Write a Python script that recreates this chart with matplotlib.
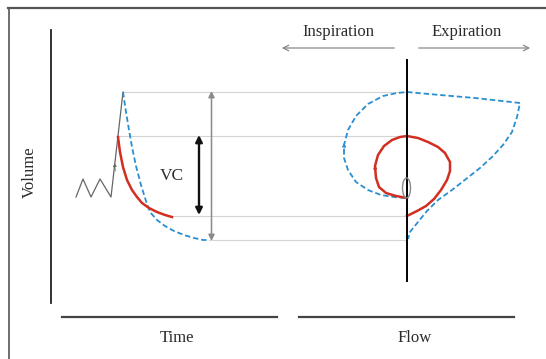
import matplotlib.pyplot as plt
from matplotlib.patches import Ellipse

# ============================================================
# THEME
# ============================================================

plt.rcParams["font.family"] = ["Liberation Serif", "DejaVu Serif"]

RED = "#d12f22"
BLUE = "#2a8fd0"
GREY = "#8a8a8a"
GUIDE = "#d4d4d4"
DARK = "#222222"
TEXT = "#2b2b2b"

# ============================================================
# DATA (diagram coordinates, pixel space, y grows downwards)
# ============================================================

# tidal breathing zigzag then deep inspiration (time panel)
tidal_x = [76, 83, 91, 100, 111, 123]
tidal_y = [197, 179, 197, 179, 197, 92]

# forced expiration, volume vs time
red_time_x = [118, 120, 123, 127, 132, 137, 142, 149, 157, 165, 172]
red_time_y = [137, 152, 167, 180, 190, 197, 203, 208, 212, 215, 217]

blue_time_x = [123, 126, 129, 132, 136, 141, 146, 150, 157, 165, 174, 184, 194, 203, 209]
blue_time_y = [92, 112, 130, 147, 166, 185, 201, 212, 220, 226, 231, 235, 238, 240, 240]

# flow-volume loops
red_loop_x = [407, 396, 386, 379, 376, 375, 378, 384, 392, 400, 407, 418, 428, 438,
              445, 450, 450, 447, 441, 434, 426, 417, 407]
red_loop_y = [198, 196, 193, 187, 178, 166, 155, 146, 140, 137, 136, 138, 142, 147,
              153, 162, 171, 180, 190, 199, 206, 211, 216]

blue_loop_x = [405, 394, 381, 368, 356, 348, 344, 344, 348, 356, 368, 383, 397, 407,
               440, 475, 520, 517, 512, 503, 492, 480, 466, 452, 438, 427, 418, 410, 408]
blue_loop_y = [198, 197, 195, 190, 182, 170, 158, 145, 130, 116, 104, 96, 93, 92,
               95, 98, 103, 117, 132, 145, 157, 168, 179, 190, 200, 211, 222, 232, 239]

# volume guide lines: level and left start
guide_levels = [92, 136, 216, 240]
guide_starts = [123, 118, 170, 209]
guide_end = 407

# tidal loop ellipse at zero flow
ellipse_center = (406.5, 188)
ellipse_size = (8, 20)

# ============================================================
# FIGURE
# ============================================================

fig = plt.figure(figsize=(5.46, 3.59), dpi=100)
ax = fig.add_axes([0, 0, 1, 1])
ax.set_xlim(0, 546)
ax.set_ylim(359, 0)
ax.axis("off")

# frame (top and left only)
ax.plot([8, 546], [8, 8], color="#555555", lw=1.6)
ax.plot([8.5, 8.5], [8, 359], color="#555555", lw=1.2)

# axes of the diagram
ax.plot([51, 51], [30, 303], color=DARK, lw=1.3)
ax.plot([62, 277], [317, 317], color="#444444", lw=1.6)
ax.plot([299, 514], [317, 317], color="#444444", lw=1.6)
ax.plot([407, 407], [60, 281], color="black", lw=1.4, zorder=5)

ax.text(30, 172, "Volume", rotation=90, ha="center", va="center",
        fontsize=12, color=TEXT)
ax.text(177, 338, "Time", ha="center", va="center", fontsize=12, color=TEXT)
ax.text(415, 338, "Flow", ha="center", va="center", fontsize=12, color=TEXT)

ax.text(338, 32, "Inspiration", ha="center", va="center", fontsize=12, color=TEXT)
ax.text(467, 32, "Expiration", ha="center", va="center", fontsize=12, color=TEXT)
ax.annotate("", xy=(279, 48), xytext=(397, 48),
            arrowprops=dict(arrowstyle="->", color=GREY, lw=0.9))
ax.annotate("", xy=(533, 48), xytext=(416, 48),
            arrowprops=dict(arrowstyle="->", color=GREY, lw=0.9))

# guide lines
for level, start in zip(guide_levels, guide_starts):
    ax.plot([start, guide_end], [level, level], color=GUIDE, lw=0.8, zorder=1)

# vital capacity arrows
ax.annotate("", xy=(211.5, 91), xytext=(211.5, 241),
            arrowprops=dict(arrowstyle="<|-|>", color=GREY, lw=1.1,
                            mutation_scale=9, shrinkA=0, shrinkB=0))
ax.annotate("", xy=(199, 135), xytext=(199, 215),
            arrowprops=dict(arrowstyle="<|-|>", color="#111111", lw=1.7,
                            mutation_scale=10, shrinkA=0, shrinkB=0))
ax.text(172, 176, "VC", ha="center", va="center", fontsize=12.5, color=TEXT)

# time panel
ax.plot(tidal_x, tidal_y, color="#666666", lw=0.9)
ax.annotate("", xy=(114.5, 163), xytext=(115.3, 171),
            arrowprops=dict(arrowstyle="-|>", color="#666666", lw=0.6,
                            mutation_scale=5, shrinkA=0, shrinkB=0))
ax.plot(blue_time_x, blue_time_y, color=BLUE, lw=1.3, ls=(0, (3, 1.6)))
ax.plot(red_time_x, red_time_y, color=RED, lw=1.8)

# flow panel
ax.plot(blue_loop_x, blue_loop_y, color=BLUE, lw=1.3, ls=(0, (3, 1.6)))
ax.plot(red_loop_x, red_loop_y, color=RED, lw=1.8)

ax.add_patch(Ellipse(ellipse_center, ellipse_size[0], ellipse_size[1],
                     fill=False, edgecolor=GREY, lw=1.0, zorder=6))

# direction markers on the loops
ax.annotate("", xy=(344.2, 143), xytext=(344, 152),
            arrowprops=dict(arrowstyle="-|>", color=BLUE, lw=0.5,
                            mutation_scale=6, shrinkA=0, shrinkB=0))
ax.annotate("", xy=(375.1, 165), xytext=(375.3, 173),
            arrowprops=dict(arrowstyle="-|>", color=RED, lw=0.5,
                            mutation_scale=6, shrinkA=0, shrinkB=0))

fig.savefig("out.png", dpi=100)
